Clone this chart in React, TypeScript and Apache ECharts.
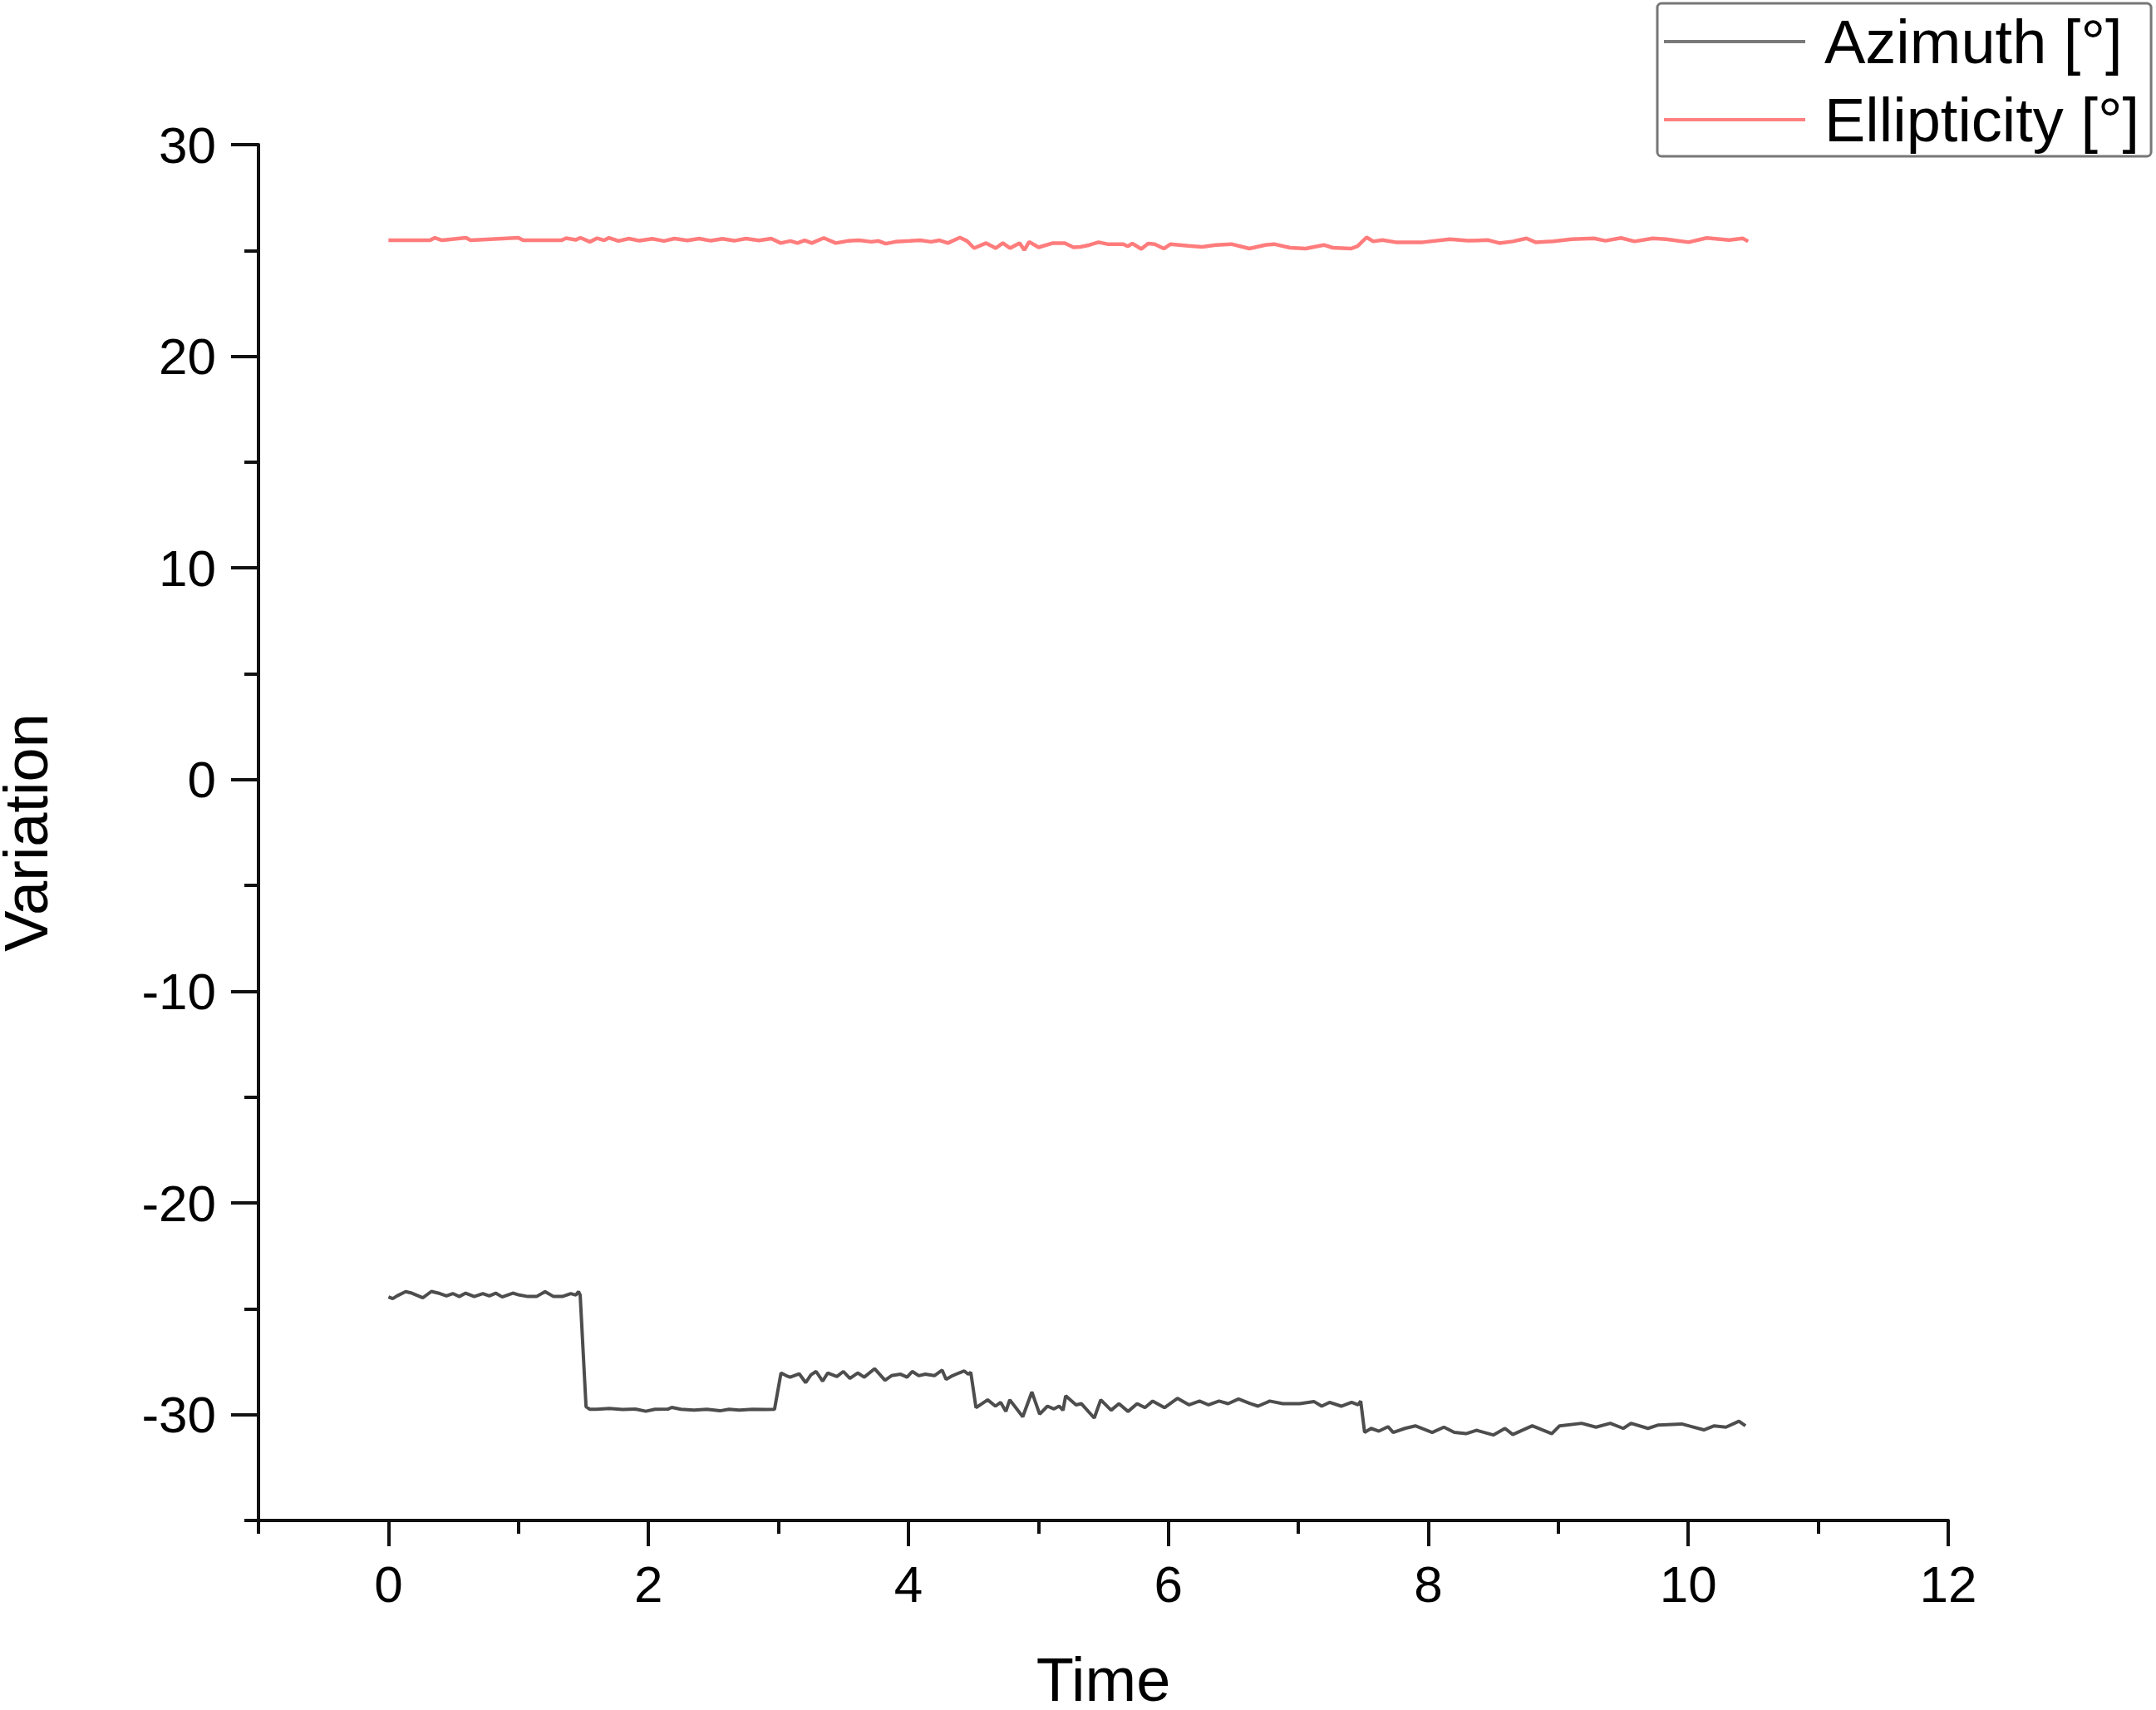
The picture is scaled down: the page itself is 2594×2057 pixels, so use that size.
import React, { useEffect, useRef } from "react";
import * as echarts from "echarts";

// ---- Data ----
const azTime = [
  0, 0.033, 0.066, 0.132, 0.18, 0.23, 0.264, 0.33, 0.396, 0.446, 0.495, 0.545, 0.594, 0.66, 0.726, 0.776,
  0.825, 0.875, 0.957, 1.007, 1.073, 1.139, 1.205, 1.27, 1.337, 1.403, 1.442, 1.462, 1.475,
  1.52, 1.55, 1.6, 1.7, 1.8, 1.9, 1.98, 2.05, 2.15, 2.18, 2.25, 2.35, 2.45, 2.55, 2.62, 2.7, 2.8, 2.9, 2.97,
  3.02, 3.06, 3.09, 3.16, 3.21, 3.25, 3.29, 3.34, 3.38, 3.45, 3.5, 3.55, 3.61, 3.66, 3.74, 3.82, 3.87, 3.94,
  3.99, 4.03, 4.08, 4.13, 4.2, 4.26, 4.29, 4.34, 4.39, 4.43, 4.46, 4.48,
  4.52, 4.61, 4.67, 4.71, 4.75, 4.78, 4.88, 4.95, 5.01, 5.07, 5.12, 5.16, 5.19, 5.21, 5.29, 5.33, 5.43, 5.48,
  5.56, 5.62, 5.69, 5.76, 5.82, 5.88, 5.97, 6.07, 6.16, 6.24, 6.31, 6.39, 6.46, 6.54, 6.63, 6.69, 6.78, 6.88,
  7.01, 7.12, 7.18, 7.24, 7.33, 7.41, 7.46, 7.48,
  7.51, 7.56, 7.62, 7.69, 7.73, 7.82, 7.9, 8.03, 8.12, 8.2, 8.29, 8.37, 8.5, 8.59, 8.65, 8.8, 8.95, 9.01,
  9.18, 9.29, 9.4, 9.5, 9.56, 9.69, 9.77, 9.95, 10.12, 10.2, 10.29, 10.39, 10.44
];
const azValue = [
  -24.44, -24.52, -24.39, -24.19, -24.26, -24.39, -24.48, -24.18, -24.28, -24.39, -24.28, -24.42, -24.26, -24.42, -24.28, -24.39,
  -24.26, -24.44, -24.26, -24.35, -24.42, -24.42, -24.19, -24.42, -24.42, -24.28, -24.35, -24.19, -24.35,
  -29.62, -29.75, -29.75, -29.71, -29.76, -29.74, -29.84, -29.75, -29.74, -29.66, -29.75, -29.79, -29.75, -29.82, -29.75, -29.79, -29.75, -29.76, -29.75,
  -28.03, -28.16, -28.23, -28.07, -28.49, -28.12, -27.96, -28.42, -28.03, -28.2, -27.96, -28.29, -28.03, -28.23, -27.83, -28.38, -28.16, -28.09,
  -28.23, -27.96, -28.16, -28.09, -28.16, -27.9, -28.33, -28.16, -28.03, -27.94, -28.09, -28.0,
  -29.67, -29.3, -29.6, -29.42, -29.85, -29.3, -30.1, -28.93, -29.98, -29.6, -29.73, -29.6, -29.79, -29.11, -29.54, -29.48, -30.16, -29.3,
  -29.79, -29.48, -29.85, -29.48, -29.67, -29.36, -29.67, -29.23, -29.54, -29.36, -29.54, -29.36, -29.48, -29.26, -29.48, -29.6, -29.36, -29.48,
  -29.48, -29.38, -29.6, -29.42, -29.6, -29.42, -29.54, -29.36,
  -30.84, -30.65, -30.78, -30.57, -30.84, -30.65, -30.53, -30.84, -30.59, -30.84, -30.9, -30.74, -30.96, -30.65, -30.94, -30.53, -30.9, -30.53,
  -30.41, -30.59, -30.41, -30.65, -30.41, -30.65, -30.49, -30.44, -30.72, -30.53, -30.59, -30.31, -30.53
];

const elTime = [
  0, 0.32, 0.357, 0.412, 0.596, 0.632, 0.999, 1.036, 1.33, 1.367, 1.44, 1.477, 1.55, 1.605, 1.66, 1.697, 1.77, 1.85,
  1.93, 2.03, 2.12, 2.2, 2.3, 2.39, 2.48, 2.57, 2.66, 2.75, 2.85, 2.945, 3.018, 3.092, 3.147, 3.202, 3.257, 3.349,
  3.441, 3.533, 3.62, 3.716, 3.77, 3.826, 3.9, 4.01, 4.09, 4.175, 4.24, 4.304, 4.396, 4.451, 4.506, 4.598, 4.672,
  4.727, 4.782, 4.855, 4.892, 4.929, 5.002, 5.112, 5.204, 5.27, 5.324, 5.393, 5.463, 5.532, 5.653, 5.688, 5.723,
  5.792, 5.844, 5.896, 5.965, 6.017, 6.156, 6.26, 6.364, 6.485, 6.624, 6.745, 6.814, 6.936, 7.057, 7.196, 7.265,
  7.404, 7.456, 7.525, 7.577, 7.646, 7.75, 7.958, 8.166, 8.305, 8.461, 8.547, 8.651, 8.755, 8.825, 8.963, 9.102,
  9.275, 9.362, 9.483, 9.587, 9.726, 9.83, 10.003, 10.142, 10.315, 10.419, 10.461
];
const elValue = [
  25.48, 25.48, 25.6, 25.48, 25.6, 25.48, 25.6, 25.48, 25.48, 25.58, 25.5, 25.6, 25.41, 25.58, 25.48, 25.6, 25.45, 25.56,
  25.46, 25.55, 25.45, 25.56, 25.47, 25.56, 25.46, 25.55, 25.46, 25.56, 25.47, 25.56, 25.35, 25.45, 25.35, 25.48, 25.35, 25.59,
  25.35, 25.45, 25.48, 25.41, 25.45, 25.32, 25.41, 25.45, 25.48, 25.41, 25.48, 25.35, 25.61, 25.45, 25.11, 25.35, 25.11,
  25.35, 25.11, 25.35, 25.02, 25.41, 25.15, 25.35, 25.35, 25.15, 25.17, 25.26, 25.39, 25.3, 25.3, 25.2, 25.33,
  25.07, 25.33, 25.3, 25.09, 25.3, 25.22, 25.17, 25.26, 25.3, 25.09, 25.26, 25.3, 25.13, 25.09, 25.26, 25.13,
  25.09, 25.2, 25.62, 25.43, 25.49, 25.39, 25.39, 25.53, 25.46, 25.49, 25.35, 25.43, 25.57, 25.39, 25.43, 25.53,
  25.57, 25.46, 25.59, 25.43, 25.57, 25.53, 25.39, 25.59, 25.49, 25.57, 25.43
];

const seriesNames = ["Azimuth [°]", "Ellipticity [°]"];
const seriesColors = ["#4d4d4d", "#ff7c7c"];
const legendColors = ["#7a7a7a", "#ff8080"];
const xTitle = "Time";
const yTitle = "Variation";

const FONT = "'Liberation Sans', Arial, Helvetica, sans-serif";

export default function App() {
  const ref = useRef<HTMLDivElement>(null);

  useEffect(() => {
    document.body.style.margin = "0";
    const chart = echarts.init(ref.current as HTMLDivElement, null, { renderer: "svg" });

    const gLeft = 311;
    const gTop = 174;
    const gW = 2033;
    const gH = 1655;
    const xUnit = gW / 13;
    const yUnit = gH / 65;
    const axisColor = "#111";

    const azData = azTime.map((t, i) => [t, azValue[i]]);
    const elData = elTime.map((t, i) => [t, elValue[i]]);

    const option: any = {
      animation: false,
      backgroundColor: "#ffffff",
      textStyle: { fontFamily: FONT },
      grid: [
        { left: gLeft, top: gTop, width: gW, height: gH, containLabel: false, outerBoundsMode: "none" },
        { left: gLeft + xUnit, top: gTop, width: 12 * xUnit, height: gH, containLabel: false, outerBoundsMode: "none" },
        { left: gLeft, top: gTop, width: gW, height: 60 * yUnit, containLabel: false, outerBoundsMode: "none" }
      ],
      legend: {
        orient: "vertical",
        left: 1994,
        top: 4,
        padding: [9, 14, 7, 8],
        itemGap: 20,
        itemWidth: 170,
        itemHeight: 4,
        icon: "rect",
        borderColor: "#777",
        borderWidth: 3,
        borderRadius: 5,
        data: seriesNames.map((n, i) => ({ name: n, itemStyle: { color: legendColors[i] } })),
        textStyle: { fontSize: 74, fontFamily: FONT, color: "#000", padding: [0, 0, 0, 18] }
      },
      xAxis: [
        {
          gridIndex: 0,
          type: "value",
          min: -1,
          max: 12,
          interval: 1,
          axisLine: { show: true, onZero: false, lineStyle: { color: axisColor, width: 4 } },
          axisTick: { show: true, length: 16, lineStyle: { color: axisColor, width: 4 } },
          axisLabel: { show: false },
          splitLine: { show: false },
          name: xTitle,
          nameLocation: "middle",
          nameGap: 154,
          nameTextStyle: { fontSize: 74, fontFamily: FONT, color: "#000" }
        },
        {
          gridIndex: 1,
          type: "value",
          min: 0,
          max: 12,
          interval: 2,
          axisLine: { show: false, onZero: false },
          axisTick: { show: true, length: 31, lineStyle: { color: axisColor, width: 4 } },
          axisLabel: { show: true, fontSize: 62, margin: 45, color: "#000", fontFamily: FONT },
          splitLine: { show: false }
        },
        { gridIndex: 2, type: "value", min: -1, max: 12, show: false, axisLine: { onZero: false } }
      ],
      yAxis: [
        {
          gridIndex: 0,
          type: "value",
          min: -35,
          max: 30,
          interval: 5,
          axisLine: { show: true, onZero: false, lineStyle: { color: axisColor, width: 4 } },
          axisTick: { show: true, length: 17, lineStyle: { color: axisColor, width: 4 } },
          axisLabel: { show: false },
          splitLine: { show: false },
          name: yTitle,
          nameLocation: "middle",
          nameGap: 243,
          nameTextStyle: { fontSize: 74, fontFamily: FONT, color: "#000" }
        },
        { gridIndex: 1, type: "value", min: -35, max: 30, show: false, axisLine: { onZero: false } },
        {
          gridIndex: 2,
          type: "value",
          min: -30,
          max: 30,
          interval: 10,
          axisLine: { show: false, onZero: false },
          axisTick: { show: true, length: 33, lineStyle: { color: axisColor, width: 4 } },
          axisLabel: { show: true, fontSize: 62, margin: 51, color: "#000", fontFamily: FONT },
          splitLine: { show: false }
        }
      ],
      series: [
        {
          name: seriesNames[0],
          type: "line",
          xAxisIndex: 0,
          yAxisIndex: 0,
          data: azData,
          symbol: "none",
          color: seriesColors[0],
          lineStyle: { color: seriesColors[0], width: 4 }
        },
        {
          name: seriesNames[1],
          type: "line",
          xAxisIndex: 0,
          yAxisIndex: 0,
          data: elData,
          symbol: "none",
          color: seriesColors[1],
          lineStyle: { color: seriesColors[1], width: 4.5 }
        }
      ]
    };

    chart.setOption(option);
    return () => chart.dispose();
  }, []);

  return (
    <div
      ref={ref}
      style={{ position: "absolute", left: 0, top: 0, width: 2594, height: 2057, background: "#fff" }}
    />
  );
}
